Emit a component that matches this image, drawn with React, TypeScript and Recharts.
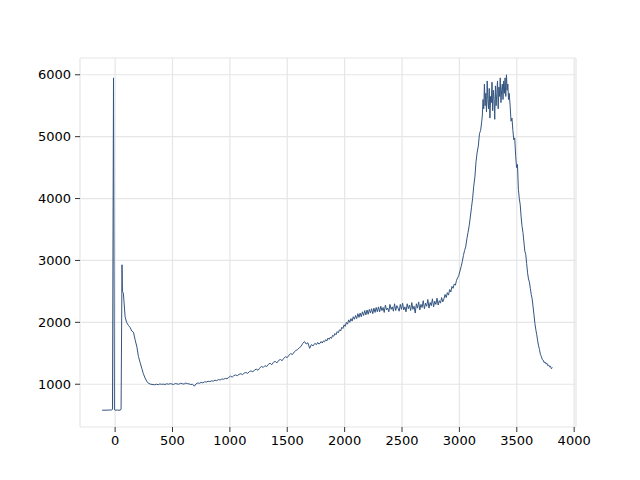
import { LineChart, Line, XAxis, YAxis, CartesianGrid } from "recharts";

// baseline + the two narrow spikes near zero, then the decay
const headX = [-113, -60, -30, -23, -14, -6, -2, 0, 20, 45, 52, 60, 64, 72, 87, 100, 116, 130, 145, 160, 174, 190, 203, 218, 232, 246, 261, 275, 290, 310];
const headY = [580, 582, 585, 592, 5950, 600, 582, 580, 582, 580, 600, 2930, 2500, 2470, 2090, 2000, 1950, 1920, 1860, 1840, 1720, 1600, 1450, 1350, 1260, 1170, 1100, 1050, 1015, 1000];

// uniformly sampled stretches: start x, step, values
const flatStart = 330, flatStep = 15;
const flatY = [995, 990, 1000, 992, 1005, 998, 1002, 995, 1008, 1000, 1010, 1003, 996, 1012, 1005, 1000, 1015, 1008, 1002, 1018, 1010, 1005, 995, 1000, 968, 1005, 1020, 1015, 1030, 1022, 1040, 1035, 1048, 1042, 1055, 1050, 1065, 1058, 1075, 1068, 1085, 1080, 1095, 1088, 1110];

const riseStart = 1005, riseStep = 15;
const riseY = [1130, 1115, 1140, 1150, 1138, 1160, 1170, 1155, 1180, 1190, 1175, 1205, 1215, 1200, 1230, 1245, 1225, 1260, 1290, 1270, 1300, 1285, 1320, 1340, 1315, 1355, 1370, 1345, 1385, 1400, 1380, 1420, 1445, 1430, 1470, 1495, 1480, 1520, 1545, 1560, 1590, 1610, 1660, 1690, 1650, 1670, 1580, 1640, 1620, 1660];

const midStart = 1755, midStep = 10;
const midY = [1640, 1675, 1650, 1660, 1690, 1665, 1700, 1685, 1720, 1700, 1745, 1725, 1760, 1740, 1790, 1775, 1820, 1800, 1850, 1830, 1880, 1860, 1920, 1900, 1960, 1935, 2000, 1970, 2040, 2000, 2060, 2020, 2090, 2050, 2110, 2060, 2140, 2080, 2150, 2090, 2170, 2110, 2190, 2120, 2200, 2130, 2210, 2150, 2220, 2140, 2230, 2160, 2240, 2170, 2250];

const plateauStart = 2305, plateauStep = 10;
const plateauY = [2170, 2260, 2190, 2240, 2160, 2280, 2200, 2230, 2170, 2290, 2210, 2250, 2180, 2300, 2190, 2270, 2230, 2180, 2290, 2210, 2310, 2200, 2250, 2170, 2300, 2220, 2280, 2190, 2320, 2210, 2260, 2150, 2300, 2230, 2330, 2200, 2290, 2240, 2350, 2220, 2310, 2260, 2370, 2230, 2320, 2270, 2380, 2250, 2340, 2290, 2390, 2280, 2350, 2310, 2400, 2330];

const climbStart = 2865, climbStep = 10;
const climbY = [2380, 2450, 2400, 2480, 2440, 2530, 2490, 2580, 2550, 2620, 2600, 2680, 2720, 2760, 2830, 2900, 2980, 3080, 3160, 3220, 3350, 3450, 3560, 3700, 3850, 4000, 4200, 4350, 4600, 4750, 4850, 5050, 5100, 5250];

const peakStart = 3200, peakStep = 6;
const peakY = [5350, 5600, 5450, 5850, 5500, 5700, 5400, 5900, 5600, 5450, 5780, 5300, 5650, 5550, 5880, 5420, 5750, 5600, 5280, 5820, 5500, 5700, 5900, 5450, 5800, 5650, 5950, 5550, 5750, 5850, 5600, 5900, 5700, 5950, 5650, 6000, 5750, 5850, 5600, 5700];

const fallStart = 3442, fallStep = 8;
const fallY = [5500, 5250, 5300, 5100, 4950, 4980, 4700, 4500, 4550, 4150, 4000, 3900, 3700, 3550, 3450, 3300, 3150, 3100, 2950, 2800, 2700, 2650, 2550, 2450, 2380, 2250, 2120, 1980, 1880, 1800, 1700, 1620, 1560, 1480, 1450, 1400, 1390, 1350, 1360, 1330, 1340, 1300, 1310, 1280, 1290, 1250, 1270];

const xTicks = [0, 500, 1000, 1500, 2000, 2500, 3000, 3500, 4000];
const yTicks = [1000, 2000, 3000, 4000, 5000, 6000];

const stretches: [number, number, number[]][] = [
  [flatStart, flatStep, flatY],
  [riseStart, riseStep, riseY],
  [midStart, midStep, midY],
  [plateauStart, plateauStep, plateauY],
  [climbStart, climbStep, climbY],
  [peakStart, peakStep, peakY],
  [fallStart, fallStep, fallY],
];

const data: { x: number; y: number }[] = headX.map((x, i) => ({ x, y: headY[i] }));
for (const [x0, step, ys] of stretches) {
  ys.forEach((y, i) => data.push({ x: x0 + i * step, y }));
}

const tickStyle = { fontFamily: "DejaVu Sans", fontSize: 13, fill: "#000" };

export default function App() {
  return (
    <div style={{ position: "absolute", left: 0, top: 0, width: 640, height: 480, background: "#fff" }}>
      <LineChart width={640} height={480} data={data} margin={{ top: 58, right: 64, bottom: 23, left: 20 }}>
        <CartesianGrid stroke="#e6e6e6" strokeWidth={1.2} />
        <XAxis
          dataKey="x"
          type="number"
          domain={[-306, 4016]}
          ticks={xTicks}
          allowDataOverflow
          axisLine={false}
          tickLine={{ stroke: "#333" }}
          tickSize={5}
          tickMargin={4}
          height={30}
          tick={tickStyle}
        />
        <YAxis
          type="number"
          domain={[309, 6271]}
          ticks={yTicks}
          allowDataOverflow
          axisLine={false}
          tickLine={{ stroke: "#333" }}
          tickSize={5}
          tickMargin={4}
          width={60}
          tick={tickStyle}
        />
        <Line type="linear" dataKey="y" stroke="#345580" strokeWidth={1} dot={false} isAnimationActive={false} />
      </LineChart>
    </div>
  );
}
